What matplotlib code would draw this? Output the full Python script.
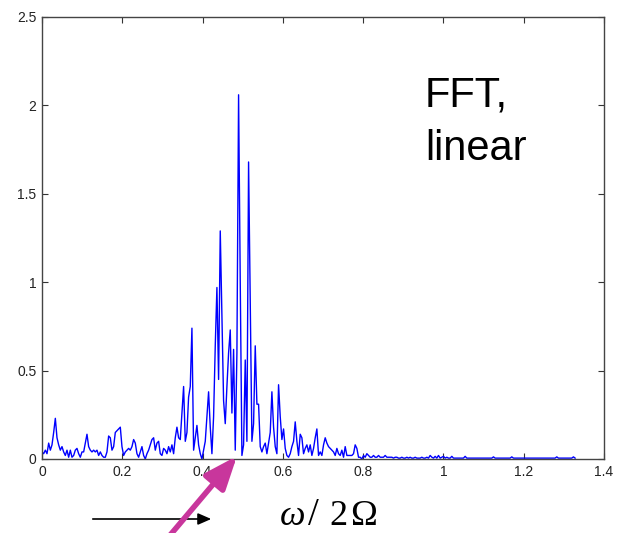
import numpy as np
import matplotlib
matplotlib.use("Agg")
import matplotlib.pyplot as plt

# FFT magnitude spectrum, uniform bin spacing
bin_width = 0.00415

low_band = [
    0.04, 0.03, 0.05, 0.03, 0.09, 0.05, 0.08, 0.15, 0.23, 0.12,
    0.08, 0.05, 0.07, 0.04, 0.02, 0.05, 0.01, 0.05, 0.01, 0.02,
    0.05, 0.06, 0.03, 0.01, 0.04, 0.04, 0.09, 0.14, 0.07, 0.05,
    0.04, 0.05, 0.04, 0.05, 0.02, 0.04, 0.02, 0.01, 0.01, 0.04,
    0.13, 0.12, 0.05, 0.07, 0.15, 0.16, 0.17, 0.18, 0.07, 0.02,
    0.04, 0.05, 0.06, 0.05, 0.07, 0.11, 0.09, 0.03, 0.01, 0.04,
    0.07, 0.02, 0.00, 0.03, 0.05, 0.08, 0.11, 0.12, 0.05, 0.09,
    0.10, 0.03, 0.02, 0.06, 0.05, 0.03, 0.07, 0.04, 0.08, 0.03,
]

peak_band = [
    0.12, 0.18, 0.12, 0.11, 0.26, 0.41, 0.10, 0.15, 0.35, 0.41,
    0.74, 0.05, 0.12, 0.19, 0.08, 0.03, 0.00, 0.05, 0.10, 0.24,
    0.38, 0.18, 0.03, 0.24, 0.64, 0.97, 0.45, 1.29, 0.80, 0.33,
    0.20, 0.41, 0.60, 0.73, 0.26, 0.62, 0.05, 0.60, 2.06, 1.00,
    0.02, 0.08, 0.56, 0.10, 1.68, 0.90, 0.10, 0.20, 0.64, 0.31,
    0.31, 0.07, 0.04, 0.07, 0.09, 0.03, 0.09, 0.15, 0.38, 0.18,
    0.07, 0.03, 0.42, 0.24, 0.11, 0.17, 0.06, 0.02, 0.01, 0.03,
    0.07, 0.10, 0.21, 0.10, 0.02, 0.14, 0.12, 0.03, 0.06, 0.08,
]

upper_band = [
    0.04, 0.08, 0.02, 0.06, 0.12, 0.17, 0.02, 0.04, 0.02, 0.08,
    0.12, 0.09, 0.07, 0.06, 0.05, 0.04, 0.02, 0.06, 0.03, 0.02,
    0.05, 0.01, 0.07, 0.02, 0.02, 0.02, 0.02, 0.03, 0.08, 0.06,
    0.01, 0.01, 0.00, 0.02, 0.01, 0.03, 0.02, 0.01, 0.01, 0.02,
]

tail_band = [
    0.010, 0.010, 0.020, 0.010, 0.010, 0.010, 0.020, 0.010, 0.010, 0.010,
    0.010, 0.005, 0.010, 0.010, 0.005, 0.005, 0.010, 0.005, 0.005, 0.010,
    0.005, 0.010, 0.005, 0.005, 0.010, 0.005, 0.005, 0.005, 0.010, 0.005,
    0.005, 0.010, 0.005, 0.020, 0.010, 0.005, 0.015, 0.005, 0.020, 0.005,
    0.010, 0.015, 0.005, 0.010, 0.005, 0.005, 0.015, 0.005, 0.005, 0.005,
    0.005, 0.005, 0.005, 0.005, 0.015, 0.005, 0.005, 0.005, 0.005, 0.005,
    0.005, 0.005, 0.005, 0.005, 0.005, 0.005, 0.005, 0.005, 0.005, 0.005,
    0.005, 0.012, 0.005, 0.005, 0.005, 0.005, 0.005, 0.005, 0.005, 0.005,
    0.005, 0.005, 0.012, 0.005, 0.005, 0.005, 0.005, 0.005, 0.005, 0.005,
    0.005, 0.005, 0.005, 0.005, 0.005, 0.005, 0.005, 0.005, 0.005, 0.005,
    0.005, 0.005, 0.005, 0.005, 0.005, 0.005, 0.005, 0.005, 0.005, 0.012,
    0.005, 0.005, 0.005, 0.005, 0.005, 0.005, 0.005, 0.005, 0.005, 0.012,
    0.005,
]

x_ticks = [0, 0.2, 0.4, 0.6, 0.8, 1.0, 1.2, 1.4]
x_tick_labels = ["0", "0.2", "0.4", "0.6", "0.8", "1", "1.2", "1.4"]
y_ticks = [0, 0.5, 1.0, 1.5, 2.0, 2.5]
y_tick_labels = ["0", "0.5", "1", "1.5", "2", "2.5"]

amplitude = np.array(low_band + peak_band + upper_band + tail_band)
freq = np.arange(len(amplitude)) * bin_width

plt.rcParams["font.family"] = ["Liberation Sans", "DejaVu Sans"]

W, H = 618, 533
fig = plt.figure(figsize=(W / 100, H / 100), dpi=100)
ax = fig.add_axes([42 / W, 1 - 459 / H, (604 - 42) / W, (459 - 17) / H])

ax.plot(freq, amplitude, color="#0000FF", lw=1.0)

ax.set_xlim(0, 1.4)
ax.set_ylim(0, 2.5)
ax.set_xticks(x_ticks)
ax.set_xticklabels(x_tick_labels)
ax.set_yticks(y_ticks)
ax.set_yticklabels(y_tick_labels)
ax.tick_params(direction="in", length=4, width=0.8, top=True, right=True,
               labelsize=10, labelcolor="#222222", color="#333333", pad=4)
for sp in ax.spines.values():
    sp.set_color("#444444")
    sp.set_linewidth(1.0)

# Annotation inside the plot
fig.text(425 / W, 1 - 107 / H, "FFT,", fontsize=30, color="black",
         ha="left", va="baseline")
fig.text(425 / W, 1 - 160 / H, "linear", fontsize=30, color="black",
         ha="left", va="baseline")

# Axis quantity below the plot: omega / 2 Omega, spaced out
serif = "Liberation Serif"
base_y = 1 - 525 / H
fig.text(280 / W, base_y, "\u03c9", fontsize=26, family=serif, style="italic",
         color="black", ha="left", va="baseline")
fig.text(308 / W, base_y, "/", fontsize=28, family=serif,
         color="black", ha="left", va="baseline")
fig.text(329 / W, base_y, "2", fontsize=26, family=serif,
         color="black", ha="left", va="baseline")
fig.text(350 / W, base_y, "\u03a9", fontsize=26, family=serif,
         color="black", ha="left", va="baseline")

# Direction arrow
fig.add_artist(matplotlib.patches.FancyArrowPatch(
    (90 / W, 1 - 519 / H), (214 / W, 1 - 519 / H),
    transform=fig.transFigure, arrowstyle="-|>,head_length=8,head_width=3.5",
    color="black", lw=1.2, mutation_scale=1))

# Pointer to the carrier frequency
fig.add_artist(matplotlib.patches.FancyArrowPatch(
    (166 / W, 1 - 540 / H), (237 / W, 1 - 456 / H),
    transform=fig.transFigure, arrowstyle="-|>,head_length=20,head_width=8",
    color="#C8369C", lw=4.0, mutation_scale=1, shrinkA=0, shrinkB=0))

fig.savefig("out.png", dpi=100)
